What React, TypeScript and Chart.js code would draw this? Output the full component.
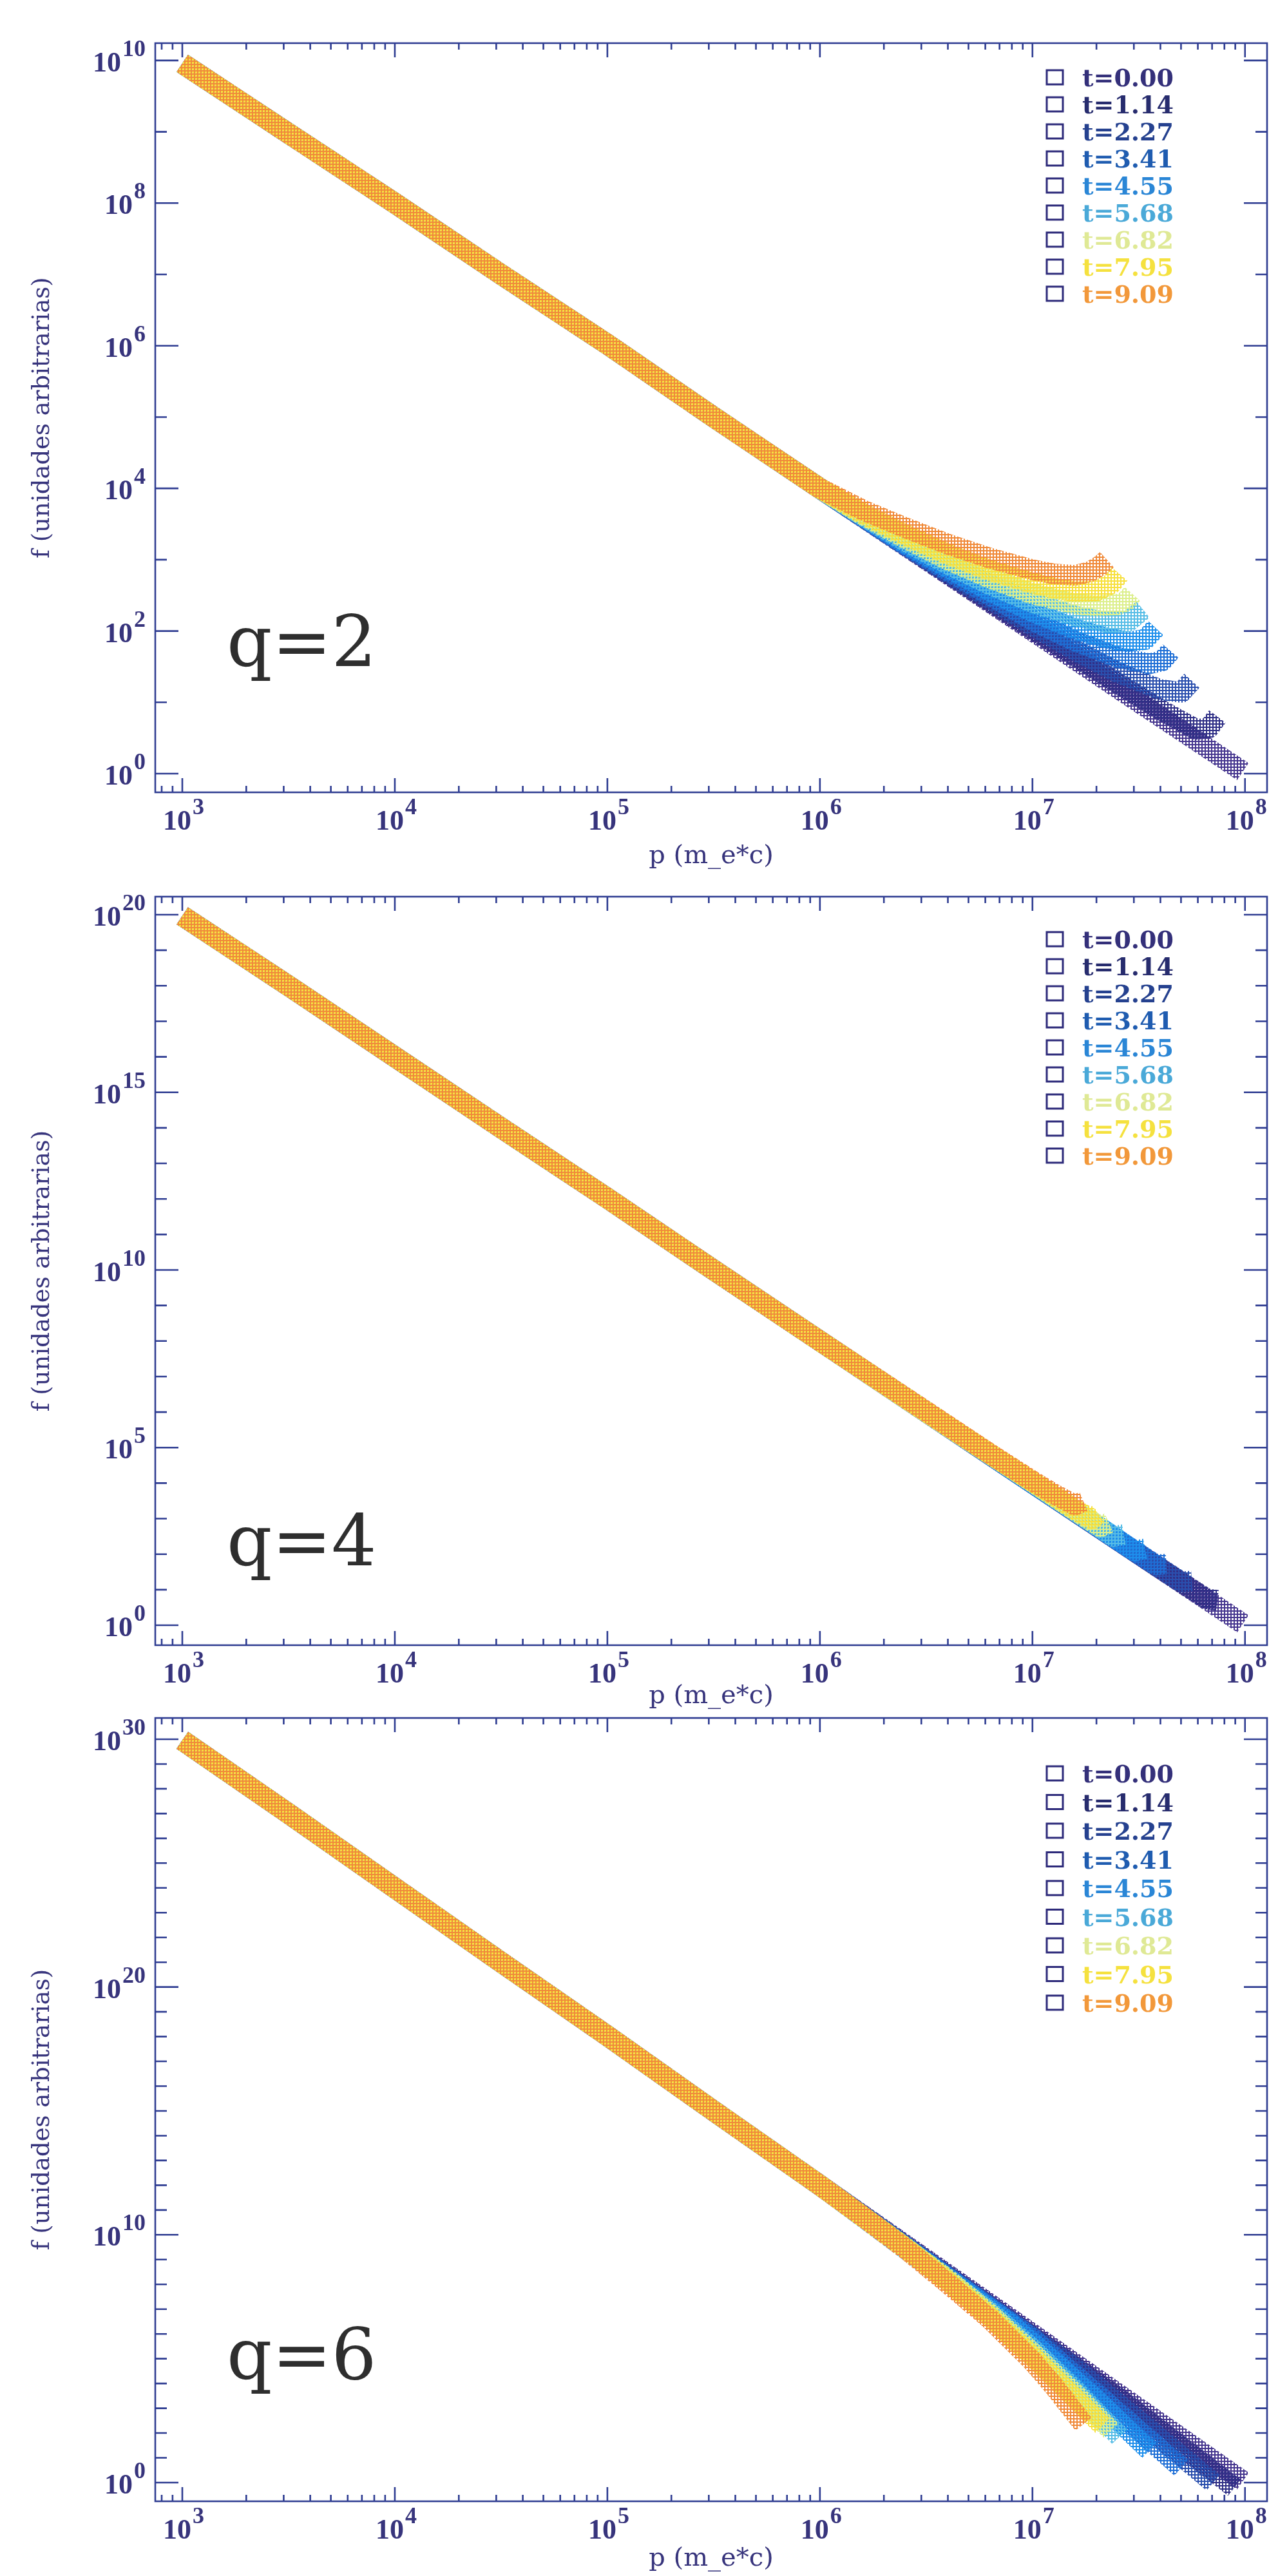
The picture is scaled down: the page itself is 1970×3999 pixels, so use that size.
import React, { useEffect, useRef } from 'react';
import { Chart, registerables } from 'chart.js';

Chart.register(...registerables);

type Pt = [number, number];

// ---------------- shared labels / ticks ----------------
const TIME_LABELS = ['t=0.00', 't=1.14', 't=2.27', 't=3.41', 't=4.55', 't=5.68', 't=6.82', 't=7.95', 't=9.09'];
const X_TICKS = [1e3, 1e4, 1e5, 1e6, 1e7, 1e8];
const X_TITLE = 'p (m_e*c)';
const Y_TITLE = 'f (unidades arbitrarias)';

// ---------------- panel q=2 ----------------
const Q2_Y_TICK_EXPONENTS = [0, 2, 4, 6, 8, 10];
const Q2_COMMON: Pt[] = [[1e3, 9.1e9], [3.162e3, 9.5e8], [1e4, 1.0e8], [3.162e4, 1.0e7], [1e5, 1.05e6], [3.162e5, 1.0e5], [1e6, 1.0e4]];
const Q2_T000: Pt[] = [[1e7, 1.0e2], [3.162e7, 1.0e1], [9.77e7, 1.07]];
const Q2_T114: Pt[] = [[6.31e6, 2.63e2], [1e7, 1.07e2], [1.585e7, 4.47e1], [2.512e7, 1.86e1], [3.981e7, 7.94], [5.888e7, 4.17], [6.761e7, 4.37], [7.413e7, 6.31]];
const Q2_T227: Pt[] = [[3.981e6, 6.61e2], [6.31e6, 2.82e2], [1e7, 1.2e2], [1.585e7, 5.37e1], [2.512e7, 2.63e1], [3.981e7, 1.51e1], [5.012e7, 1.38e1], [5.623e7, 2.0e1]];
const Q2_T341: Pt[] = [[2.512e6, 1.62e3], [3.981e6, 7.08e2], [6.31e6, 3.16e2], [1e7, 1.41e2], [1.585e7, 7.24e1], [2.512e7, 4.27e1], [3.548e7, 3.47e1], [4.074e7, 3.8e1], [4.467e7, 5.25e1]];
const Q2_T455: Pt[] = [[2.512e6, 1.7e3], [3.981e6, 7.76e2], [6.31e6, 3.63e2], [1e7, 1.86e2], [1.585e7, 1.07e2], [2.239e7, 7.94e1], [2.818e7, 7.08e1], [3.388e7, 7.59e1], [3.802e7, 1.1e2]];
const Q2_T568: Pt[] = [[1.585e6, 4.17e3], [2.512e6, 1.82e3], [3.981e6, 8.71e2], [6.31e6, 4.47e2], [1e7, 2.51e2], [1.585e7, 1.62e2], [2.239e7, 1.32e2], [2.818e7, 1.35e2], [3.311e7, 2.0e2]];
const Q2_T682: Pt[] = [[1.585e6, 4.27e3], [2.512e6, 2.0e3], [3.981e6, 1.0e3], [6.31e6, 5.5e2], [1e7, 3.31e2], [1.585e7, 2.4e2], [1.995e7, 2.24e2], [2.512e7, 2.34e2], [2.754e7, 2.63e2], [2.951e7, 3.31e2]];
const Q2_T795: Pt[] = [[1.585e6, 4.47e3], [2.512e6, 2.24e3], [3.981e6, 1.2e3], [6.31e6, 7.08e2], [1e7, 4.68e2], [1.259e7, 3.98e2], [1.585e7, 3.55e2], [1.995e7, 3.63e2], [2.344e7, 4.57e2], [2.57e7, 6.31e2]];
const Q2_T909: Pt[] = [[1.585e6, 5.01e3], [2.512e6, 2.82e3], [3.981e6, 1.66e3], [6.31e6, 1.05e3], [1e7, 7.24e2], [1.259e7, 6.31e2], [1.585e7, 6.03e2], [1.862e7, 6.76e2], [2.089e7, 8.32e2], [2.239e7, 1.0e3]];

// ---------------- panel q=4 ----------------
const Q4_Y_TICK_EXPONENTS = [0, 5, 10, 15, 20];
const Q4_COMMON: Pt[] = [[1e3, 9.3e19], [3.162e3, 1.0e18], [1e4, 1.0e16], [3.162e4, 1.0e14], [1e5, 1.05e12], [3.162e5, 1.0e10], [1e6, 1.0e8]];
const Q4_T000: Pt[] = [[1e7, 1.0e4], [3.162e7, 1.0e2], [9.77e7, 1.1]];
const Q4_T114: Pt[] = [[1e7, 1.0e4], [3.981e7, 3.98e1], [6.607e7, 5.5], [7.413e7, 5.01]];
const Q4_T227: Pt[] = [[1e7, 1.0e4], [3.162e7, 1.0e2], [5.012e7, 1.66e1], [5.623e7, 1.74e1]];
const Q4_T341: Pt[] = [[1e7, 1.0e4], [2.512e7, 2.57e2], [3.802e7, 5.01e1], [4.266e7, 5.25e1]];
const Q4_T455: Pt[] = [[1e7, 1.0e4], [1.995e7, 6.61e2], [3.02e7, 1.23e2], [3.388e7, 1.41e2]];
const Q4_T568: Pt[] = [[1e7, 1.05e4], [1.585e7, 1.66e3], [2.399e7, 3.16e2], [2.692e7, 3.55e2]];
const Q4_T682: Pt[] = [[3.162e6, 1.0e6], [1e7, 1.07e4], [1.585e7, 1.7e3], [2.089e7, 5.89e2], [2.291e7, 7.59e2]];
const Q4_T795: Pt[] = [[3.162e6, 1.02e6], [6.31e6, 6.61e4], [1e7, 1.1e4], [1.585e7, 1.78e3], [1.905e7, 9.77e2], [2.042e7, 1.35e3]];
const Q4_T909: Pt[] = [[3.162e6, 1.05e6], [6.31e6, 6.76e4], [1e7, 1.15e4], [1.259e7, 5.01e3], [1.585e7, 2.4e3], [1.738e7, 3.02e3]];

// ---------------- panel q=6 ----------------
const Q6_Y_TICK_EXPONENTS = [0, 10, 20, 30];
const Q6_COMMON: Pt[] = [[1e3, 9.1e29], [3.162e3, 1.0e27], [1e4, 1.0e24], [3.162e4, 1.0e21], [1e5, 1.07e18], [3.162e5, 1.0e15], [1e6, 1.0e12]];
const Q6_T000: Pt[] = [[1e7, 1.0e6], [3.162e7, 1.0e3], [9.77e7, 1.15]];
const Q6_T114: Pt[] = [[2.512e7, 2.82e3], [5.012e7, 2.82e1], [8.913e7, 6.31e-1]];
const Q6_T227: Pt[] = [[1.585e7, 4.17e4], [3.162e7, 3.16e2], [7.079e7, 1.0]];
const Q6_T341: Pt[] = [[1e7, 6.61e5], [1.995e7, 3.98e3], [3.162e7, 1.26e2], [5.012e7, 3.98]];
const Q6_T455: Pt[] = [[7.943e6, 2.4e6], [1.259e7, 7.94e4], [1.995e7, 2.24e3], [3.548e7, 2.0e1]];
const Q6_T568: Pt[] = [[6.31e6, 7.94e6], [1e7, 2.51e5], [1.585e7, 5.62e3], [2.57e7, 7.08e1]];
const Q6_T682: Pt[] = [[3.981e6, 1.66e8], [6.31e6, 6.31e6], [1e7, 1.78e5], [1.585e7, 3.98e3], [2.344e7, 1.26e2]];
const Q6_T795: Pt[] = [[2.512e6, 3.16e9], [3.981e6, 1.41e8], [6.31e6, 5.01e6], [1e7, 1.26e5], [1.585e7, 2.51e3], [2.138e7, 2.0e2]];
const Q6_T909: Pt[] = [[1.585e6, 5.62e10], [2.512e6, 2.82e9], [3.981e6, 1.12e8], [6.31e6, 3.98e6], [1e7, 7.94e4], [1.259e7, 7.94e3], [1.738e7, 2.29e2]];

// ---------------- styles ----------------
const BAND_COLORS = ['#46368f', '#2f2f86', '#2a4fae', '#1f6fd6', '#1e8fec', '#57bde6', '#dcef8c', '#f7e03c', '#f08a3a'];
const TEXT_COLORS = ['#34307a', '#272c6e', '#25418f', '#1f5cb0', '#2a86d6', '#4aa9d8', '#dfe995', '#f5e13e', '#f2983a'];
const AXIS_COLOR = '#2f3d92';
const LABEL_COLOR = '#37347c';
const W = 1970;

type Panel = {
  name: string;
  common: Pt[];
  tails: Pt[][];
  yExps: number[];
  yTop: number;
  yMin: number;
  yMax: number;
  layout: {
    canvasTop: number;
    canvasHeight: number;
    top: number;
    bottom: number;
    legendFirst: number;
    legendStep: number;
    qBaselineAboveBottom: number;
    xTitleBelowBottom: number;
  };
};

const X_MIN = 746;
const X_MAX = 1.27e8;
const AREA_LEFT = 241;
const AREA_RIGHT = 1967;

const PANELS: Panel[] = [
  {
    name: 'q=2',
    common: Q2_COMMON,
    tails: [Q2_T000, Q2_T114, Q2_T227, Q2_T341, Q2_T455, Q2_T568, Q2_T682, Q2_T795, Q2_T909],
    yExps: Q2_Y_TICK_EXPONENTS,
    yTop: 10,
    yMin: 0.547,
    yMax: 1.75e10,
    layout: { canvasTop: 0, canvasHeight: 1390, top: 67, bottom: 1230, legendFirst: 53, legendStep: 42, qBaselineAboveBottom: 196, xTitleBelowBottom: 110 },
  },
  {
    name: 'q=4',
    common: Q4_COMMON,
    tails: [Q4_T000, Q4_T114, Q4_T227, Q4_T341, Q4_T455, Q4_T568, Q4_T682, Q4_T795, Q4_T909],
    yExps: Q4_Y_TICK_EXPONENTS,
    yTop: 20,
    yMin: 0.274,
    yMax: 3.22e20,
    layout: { canvasTop: 1325, canvasHeight: 1390, top: 1392, bottom: 2554, legendFirst: 66, legendStep: 42, qBaselineAboveBottom: 124, xTitleBelowBottom: 90 },
  },
  {
    name: 'q=6',
    common: Q6_COMMON,
    tails: [Q6_T000, Q6_T114, Q6_T227, Q6_T341, Q6_T455, Q6_T568, Q6_T682, Q6_T795, Q6_T909],
    yExps: Q6_Y_TICK_EXPONENTS,
    yTop: 30,
    yMin: 0.176,
    yMax: 7.2e30,
    layout: { canvasTop: 2600, canvasHeight: 1399, top: 2667, bottom: 3883, legendFirst: 86, legendStep: 44.5, qBaselineAboveBottom: 190, xTitleBelowBottom: 100 },
  },
];

const BASE_FONT = 'bold 44px "Liberation Serif", serif';
const EXP_FONT = 'bold 36px "Liberation Serif", serif';

function drawPow(ctx: CanvasRenderingContext2D, exp: number, x: number, baseY: number, align: 'center' | 'right') {
  ctx.font = BASE_FONT;
  const wb = ctx.measureText('10').width;
  ctx.font = EXP_FONT;
  const es = String(exp);
  const we = ctx.measureText(es).width;
  const gap = 2;
  const total = wb + gap + we;
  const left = align === 'center' ? x - total / 2 : x - total;
  ctx.textAlign = 'left';
  ctx.textBaseline = 'alphabetic';
  ctx.font = BASE_FONT;
  ctx.fillText('10', left, baseY);
  ctx.font = EXP_FONT;
  ctx.fillText(es, left + wb + gap, baseY - 24);
}

function makeFramePlugin(panel: Panel) {
  return {
    id: 'idlFrame',
    beforeDatasetsDraw(chart: any) {
      const ctx: CanvasRenderingContext2D = chart.ctx;
      const a = chart.chartArea;
      const xs = chart.scales.x;
      const ys = chart.scales.y;
      ctx.save();
      ctx.strokeStyle = AXIS_COLOR;
      ctx.lineWidth = 2.6;
      ctx.strokeRect(a.left, a.top, a.right - a.left, a.bottom - a.top);
      ctx.beginPath();
      for (let e = 2; e <= 8; e++) {
        for (let m = 1; m <= 9; m++) {
          const v = m * Math.pow(10, e);
          if (v < xs.min || v > xs.max) continue;
          const px = xs.getPixelForValue(v);
          const len = m === 1 ? 22 : 10;
          ctx.moveTo(px, a.bottom);
          ctx.lineTo(px, a.bottom - len);
          ctx.moveTo(px, a.top);
          ctx.lineTo(px, a.top + len);
        }
      }
      for (let e = 0; e <= panel.yTop; e++) {
        const py = ys.getPixelForValue(Math.pow(10, e));
        const len = panel.yExps.includes(e) ? 36 : 18;
        ctx.moveTo(a.left, py);
        ctx.lineTo(a.left + len, py);
        ctx.moveTo(a.right, py);
        ctx.lineTo(a.right - len, py);
      }
      ctx.stroke();

      ctx.fillStyle = LABEL_COLOR;
      X_TICKS.forEach((v) => {
        const px = xs.getPixelForValue(v);
        drawPow(ctx, Math.round(Math.log10(v)), px + 2, a.bottom + 58, 'center');
      });
      panel.yExps.forEach((e) => {
        const py = ys.getPixelForValue(Math.pow(10, e));
        drawPow(ctx, e, a.left - 15, py + 17, 'right');
      });

      // axis titles
      ctx.font = '40px "DejaVu Serif", serif';
      ctx.textAlign = 'center';
      ctx.textBaseline = 'alphabetic';
      ctx.fillText(X_TITLE, (a.left + a.right) / 2, a.bottom + panel.layout.xTitleBelowBottom);
      ctx.save();
      ctx.translate(76, (a.top + a.bottom) / 2);
      ctx.rotate(-Math.PI / 2);
      ctx.font = '37px "DejaVu Serif", serif';
      ctx.fillText(Y_TITLE, 0, 0);
      ctx.restore();
      ctx.restore();
    },
    afterDraw(chart: any) {
      const ctx: CanvasRenderingContext2D = chart.ctx;
      const a = chart.chartArea;
      ctx.save();
      // legend
      TIME_LABELS.forEach((lab, k) => {
        const cy = a.top + panel.layout.legendFirst + k * panel.layout.legendStep;
        ctx.strokeStyle = '#2d2a7a';
        ctx.lineWidth = 3;
        ctx.strokeRect(1625, cy - 11, 25, 22);
        ctx.fillStyle = TEXT_COLORS[k];
        ctx.font = 'bold 38px "DejaVu Serif", serif';
        ctx.textAlign = 'left';
        ctx.textBaseline = 'alphabetic';
        ctx.fillText(lab, 1680, cy + 14);
      });
      // q label
      ctx.fillStyle = '#2e2e2e';
      ctx.font = '110px "DejaVu Serif", serif';
      ctx.textAlign = 'left';
      ctx.fillText(panel.name, 352, a.bottom - panel.layout.qBaselineAboveBottom);
      ctx.restore();
    },
  };
}

function makeHatch(ctx: CanvasRenderingContext2D, color: string, k: number): CanvasPattern | string {
  const tile = document.createElement('canvas');
  tile.width = 5;
  tile.height = 5;
  const g = tile.getContext('2d');
  if (!g) return color;
  g.fillStyle = color;
  g.fillRect(0, 0, 5, 2);
  g.fillRect(0, 0, 2, 5);
  const p = ctx.createPattern(tile, 'repeat');
  if (!p) return color;
  try {
    p.setTransform(new DOMMatrix().translate((k * 2) % 5, (k * 3) % 5));
  } catch (e) {
    /* ignore */
  }
  return p;
}

function PanelChart({ panel }: { panel: Panel }) {
  const ref = useRef<HTMLCanvasElement | null>(null);
  useEffect(() => {
    const canvas = ref.current;
    if (!canvas) return;
    const ctx = canvas.getContext('2d');
    if (!ctx) return;
    const L = panel.layout;
    const datasets = panel.tails.map((tail, k) => ({
      label: TIME_LABELS[k],
      data: [...panel.common, ...tail].map(([x, y]) => ({ x, y })),
      showLine: true,
      borderColor: makeHatch(ctx, BAND_COLORS[k], k),
      backgroundColor: BAND_COLORS[k],
      borderWidth: 32,
      borderJoinStyle: 'round' as const,
      borderCapStyle: 'butt' as const,
      pointRadius: 0,
      tension: 0,
      order: 8 - k,
    }));
    const chart = new Chart(canvas, {
      type: 'scatter',
      data: { datasets },
      options: {
        responsive: false,
        animation: false,
        devicePixelRatio: 1,
        events: [],
        layout: {
          padding: {
            left: AREA_LEFT,
            right: W - AREA_RIGHT,
            top: L.top - L.canvasTop,
            bottom: L.canvasTop + L.canvasHeight - L.bottom,
          },
        },
        scales: {
          x: { type: 'logarithmic', min: X_MIN, max: X_MAX, display: false },
          y: { type: 'logarithmic', min: panel.yMin, max: panel.yMax, display: false },
        },
        plugins: { legend: { display: false }, tooltip: { enabled: false }, title: { display: false } },
      },
      plugins: [makeFramePlugin(panel)],
    } as any);
    return () => chart.destroy();
  }, [panel]);
  return (
    <canvas
      ref={ref}
      width={W}
      height={panel.layout.canvasHeight}
      style={{ position: 'absolute', left: 0, top: panel.layout.canvasTop, width: W, height: panel.layout.canvasHeight }}
    />
  );
}

export default function App() {
  return (
    <div style={{ position: 'absolute', left: 0, top: 0, width: W, height: 3999, background: '#ffffff', overflow: 'hidden' }}>
      {PANELS.map((p) => (
        <PanelChart key={p.name} panel={p} />
      ))}
    </div>
  );
}
